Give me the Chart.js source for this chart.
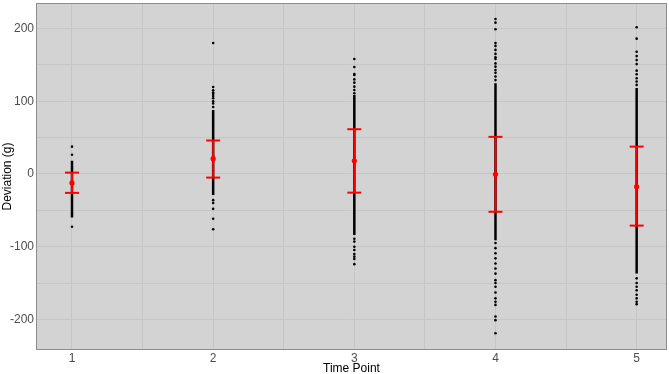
<!DOCTYPE html>
<html>
<head>
<meta charset="utf-8">
<script src="https://cdn.jsdelivr.net/npm/chart.js@4/dist/chart.umd.min.js"></script>
<style>
  body { margin: 0; background: #ffffff; }
  #wrap { width: 669px; height: 374px; }
</style>
</head>
<body>
<div id="wrap"><canvas id="chart" width="669" height="374"></canvas></div>
<script>
// values
var timePoints = [1, 2, 3, 4, 5];
var meanValues = [-12.4, 21, 18, -0.5, -17.5];
var upperValues = [1.8, 46, 61.5, 51, 37.6];
var lowerValues = [-26, -5, -25.7, -52, -71];

// the dense part of each column of raw points (low, high)
var denseLow = [-60, -29, -84, -91, -137];
var denseHigh = [18, 88, 108.7, 124.7, 118];

// single raw points outside the dense part
var sparse1 = [37.5, 26.5, -72.5];
var sparse2 = [180, 119.5, 115, 112, 110, 107, 104, 100, 97, 92, -36, -40, -48, -61.5, -76];
var sparse3 = [158, 147, 137.5, 136, 130, 125.5, 120, 115.5, 111, -89, -93, -100, -104.5, -110, -113.7, -117, -124];
var sparse4 = [213, 208, 199, 180, 176, 170.5, 165, 160.5, 158, 152, 147.5, 143, 139, 134, 129,
    -95, -102, -109, -116, -123, -130, -137, -146, -150, -155, -163, -171, -175.6, -180, -196, -201, -219];
var sparse5 = [201.7, 186, 168, 162, 156.5, 151, 142, 137, 131.6, 127, 122.4,
    -143.5, -150, -155, -160, -166, -171, -175.6, -179];
var sparsePoints = [sparse1, sparse2, sparse3, sparse4, sparse5];

var xMajor = [1, 2, 3, 4, 5];
var xMinor = [1.5, 2.5, 3.5, 4.5];
var yMajor = [-200, -100, 0, 100, 200];
var yMinor = [-150, -50, 50, 150];

function segments(lows, highs) {
    var out = [];
    timePoints.forEach(function(t, i) {
        out.push({ x: t, y: lows[i] });
        out.push({ x: t, y: highs[i] });
        out.push({ x: t, y: null });
    });
    return out;
}

var rawPoints = [];
timePoints.forEach(function(t, i) {
    sparsePoints[i].forEach(function(v) {
        rawPoints.push({ x: t, y: v });
    });
});

var caps = [];
timePoints.forEach(function(t, i) {
    caps.push({ x: t, y: upperValues[i] });
    caps.push({ x: t, y: lowerValues[i] });
});

var means = timePoints.map(function(t, i) {
    return { x: t, y: meanValues[i] };
});

var panelPlugin = {
    id: "panel",
    beforeDraw: function(chart) {
        var a = chart.chartArea, ctx = chart.ctx;
        ctx.save();
        ctx.fillStyle = "#d3d3d3";
        ctx.fillRect(a.left, a.top, a.right - a.left, a.bottom - a.top);
        ctx.restore();
    },
    afterDraw: function(chart) {
        var a = chart.chartArea, ctx = chart.ctx;
        ctx.save();
        ctx.strokeStyle = "#8c8c8c";
        ctx.lineWidth = 1;
        ctx.strokeRect(a.left + 0.5, a.top + 0.5, a.right - a.left - 1, a.bottom - a.top - 1);
        ctx.restore();
    }
};

// no extra room for the end labels, the panel fills the canvas
function noPadding(axis) {
    axis.paddingTop = 0;
    axis.paddingBottom = 0;
    axis.paddingLeft = 0;
    axis.paddingRight = 0;
}

new Chart(document.getElementById("chart"), {
    type: "scatter",
    data: {
        datasets: [
            {
                label: "dense",
                type: "line",
                data: segments(denseLow, denseHigh),
                borderColor: "#000000",
                borderWidth: 2.5,
                pointRadius: 0,
                spanGaps: false,
                order: 5
            },
            {
                label: "raw",
                data: rawPoints,
                backgroundColor: "#000000",
                borderColor: "#000000",
                borderWidth: 0,
                pointRadius: 1.3,
                order: 4
            },
            {
                label: "sd",
                type: "line",
                data: segments(lowerValues, upperValues),
                borderColor: "#ff0000",
                borderWidth: 2,
                pointRadius: 0,
                spanGaps: false,
                order: 2
            },
            {
                label: "caps",
                data: caps,
                pointStyle: "line",
                pointRadius: 7,
                borderColor: "#ff0000",
                borderWidth: 2,
                order: 1
            },
            {
                label: "mean",
                data: means,
                backgroundColor: "#ff0000",
                borderColor: "#ff0000",
                borderWidth: 0,
                pointRadius: 2.6,
                order: 0
            }
        ]
    },
    options: {
        responsive: false,
        animation: false,
        layout: { autoPadding: false, padding: { top: 3, right: 2, left: 0, bottom: 0 } },
        plugins: {
            legend: { display: false },
            tooltip: { enabled: false }
        },
        scales: {
            x: {
                type: "linear",
                min: 0.745,
                max: 5.215,
                afterBuildTicks: function(axis) {
                    axis.ticks = xMajor.concat(xMinor).sort().map(function(v) { return { value: v }; });
                },
                afterFit: function(axis) {
                    axis.height = 24;
                    noPadding(axis);
                },
                grid: { color: "#c6c6c6", lineWidth: 1, drawTicks: false },
                border: { display: false },
                ticks: {
                    padding: 1,
                    color: "#4d4d4d",
                    font: { family: "Liberation Sans, Arial", size: 12 },
                    autoSkip: false,
                    maxRotation: 0,
                    callback: function(v) { return xMajor.indexOf(v) >= 0 ? String(v) : ""; }
                },
                title: {
                    display: true,
                    text: "Time Point",
                    color: "#000000",
                    padding: { top: 0, bottom: -2 },
                    font: { family: "Liberation Sans, Arial", size: 12 }
                }
            },
            y: {
                type: "linear",
                min: -242,
                max: 235,
                afterBuildTicks: function(axis) {
                    axis.ticks = yMajor.concat(yMinor).sort(function(a, b) { return a - b; })
                        .map(function(v) { return { value: v }; });
                },
                afterFit: function(axis) {
                    axis.width = 36;
                    noPadding(axis);
                },
                grid: { color: "#c6c6c6", lineWidth: 1, drawTicks: false },
                border: { display: false },
                ticks: {
                    padding: 2,
                    color: "#4d4d4d",
                    font: { family: "Liberation Sans, Arial", size: 12 },
                    autoSkip: false,
                    callback: function(v) { return yMajor.indexOf(v) >= 0 ? String(v) : ""; }
                },
                title: {
                    display: true,
                    text: "Deviation (g)",
                    color: "#000000",
                    padding: { top: 0, bottom: 0 },
                    font: { family: "Liberation Sans, Arial", size: 12 }
                }
            }
        }
    },
    plugins: [panelPlugin]
});
</script>
</body>
</html>
